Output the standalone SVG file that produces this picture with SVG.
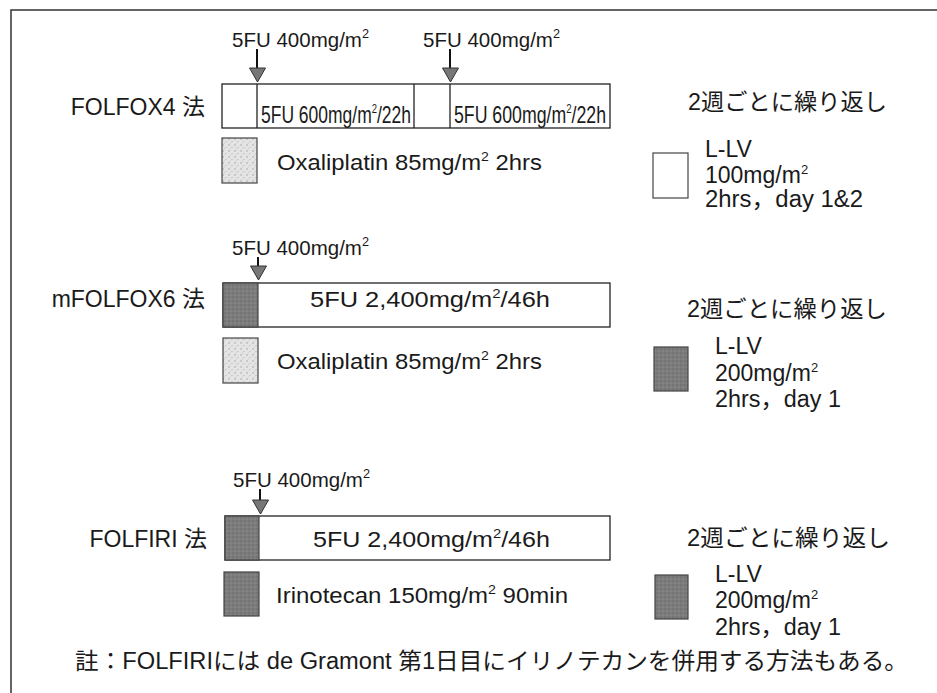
<svg xmlns="http://www.w3.org/2000/svg" width="937" height="693" viewBox="0 0 937 693">
<style>
  text { font-family: "Liberation Sans", Arial, "Noto Sans CJK JP", sans-serif; fill: #1a1a1a; }
  .jp { font-family: "Liberation Sans", "Noto Sans CJK JP", sans-serif; }
  .lbl { font-size: 23px; }
  .dose { font-size: 21px; }
  .cond { font-size: 24px; }
  .body { font-size: 22px; }
  .side { font-size: 23px; }
  .sup { font-size: 13px; }
  .box { fill: #ffffff; stroke: #222; stroke-width: 1.3; }
  .div { stroke: #222; stroke-width: 1.3; }
  .sw { stroke: #444; stroke-width: 1.2; }
  .stem { stroke: #111; stroke-width: 2; }
  .head { fill: #777; stroke: #333; stroke-width: 1; }
  .frame { stroke: #333; stroke-width: 1.5; fill: none; }
</style>
<defs>
  <pattern id="light" width="6" height="6" patternUnits="userSpaceOnUse">
    <rect width="6" height="6" fill="#e4e4e4"/>
    <circle cx="1" cy="1" r="0.7" fill="#9a9a9a"/>
    <circle cx="4" cy="3.5" r="0.6" fill="#aaaaaa"/>
    <circle cx="2.2" cy="5" r="0.5" fill="#bdbdbd"/>
  </pattern>
  <pattern id="dark" width="4" height="4" patternUnits="userSpaceOnUse">
    <rect width="4" height="4" fill="#7c7c7c"/>
    <circle cx="1" cy="1" r="0.6" fill="#555"/>
    <circle cx="3" cy="3" r="0.5" fill="#9c9c9c"/>
  </pattern>
</defs>
<rect width="937" height="693" fill="#ffffff"/>

<g id="frame">
  <path class="frame" d="M11 693 V10 H937"/>
</g>

<!-- FOLFOX4 -->
<g id="folfox4">
  <text class="lbl jp" x="205" y="115" text-anchor="end">FOLFOX4 法</text>
  <text class="dose" x="232" y="47" textLength="137" lengthAdjust="spacingAndGlyphs">5FU 400mg/m<tspan class="sup" baseline-shift="9">2</tspan></text>
  <text class="dose" x="423" y="47" textLength="137" lengthAdjust="spacingAndGlyphs">5FU 400mg/m<tspan class="sup" baseline-shift="9">2</tspan></text>
  <rect class="box" x="222" y="84" width="388" height="44"/>
  <line class="div" x1="257" y1="84" x2="257" y2="128"/>
  <line class="div" x1="414" y1="84" x2="414" y2="128"/>
  <line class="div" x1="450" y1="84" x2="450" y2="128"/>
  <text class="cond" x="261" y="123" textLength="150" lengthAdjust="spacingAndGlyphs">5FU 600mg/m<tspan font-size="13" baseline-shift="10">2</tspan>/22h</text>
  <text class="cond" x="454" y="123" textLength="152" lengthAdjust="spacingAndGlyphs">5FU 600mg/m<tspan font-size="13" baseline-shift="10">2</tspan>/22h</text>
  <rect class="sw" x="222" y="138" width="35" height="45" fill="url(#light)"/>
  <text class="body" x="277" y="170" textLength="265" lengthAdjust="spacingAndGlyphs">Oxaliplatin 85mg/m<tspan class="sup" baseline-shift="9">2</tspan> 2hrs</text>
  <text class="side jp" x="688" y="110" textLength="199" lengthAdjust="spacingAndGlyphs">2週ごとに繰り返し</text>
  <rect class="sw" x="653" y="153" width="35" height="45" fill="#ffffff" stroke="#222"/>
  <text class="side" x="705" y="157">L-LV</text>
  <text class="side" x="705" y="183">100mg/m<tspan class="sup" baseline-shift="9">2</tspan></text>
  <text class="side jp" x="705" y="207" textLength="158" lengthAdjust="spacingAndGlyphs">2hrs，day 1&amp;2</text>
</g>

<!-- mFOLFOX6 -->
<g id="mfolfox6">
  <text class="lbl jp" x="205" y="307" text-anchor="end">mFOLFOX6 法</text>
  <text class="dose" x="232" y="255" textLength="137" lengthAdjust="spacingAndGlyphs">5FU 400mg/m<tspan class="sup" baseline-shift="9">2</tspan></text>
  <rect class="box" x="223" y="283" width="387" height="44"/>
  <rect class="sw" x="223" y="283" width="35" height="44" fill="url(#dark)"/>
  <text class="body" x="310" y="307" textLength="240" lengthAdjust="spacingAndGlyphs">5FU 2,400mg/m<tspan class="sup" baseline-shift="9">2</tspan>/46h</text>
  <rect class="sw" x="223" y="338" width="35" height="45" fill="url(#light)"/>
  <text class="body" x="277" y="369" textLength="265" lengthAdjust="spacingAndGlyphs">Oxaliplatin 85mg/m<tspan class="sup" baseline-shift="9">2</tspan> 2hrs</text>
  <text class="side jp" x="687" y="317" textLength="200" lengthAdjust="spacingAndGlyphs">2週ごとに繰り返し</text>
  <rect class="sw" x="654" y="347" width="34" height="44" fill="url(#dark)"/>
  <text class="side" x="715" y="354">L-LV</text>
  <text class="side" x="715" y="381">200mg/m<tspan class="sup" baseline-shift="9">2</tspan></text>
  <text class="side jp" x="715" y="407" textLength="126" lengthAdjust="spacingAndGlyphs">2hrs，day 1</text>
</g>

<!-- FOLFIRI -->
<g id="folfiri">
  <text class="lbl jp" x="207" y="547" text-anchor="end">FOLFIRI 法</text>
  <text class="dose" x="233" y="487" textLength="137" lengthAdjust="spacingAndGlyphs">5FU 400mg/m<tspan class="sup" baseline-shift="9">2</tspan></text>
  <rect class="box" x="225" y="516" width="385" height="44"/>
  <rect class="sw" x="225" y="516" width="34" height="44" fill="url(#dark)"/>
  <text class="body" x="313" y="547" textLength="237" lengthAdjust="spacingAndGlyphs">5FU 2,400mg/m<tspan class="sup" baseline-shift="9">2</tspan>/46h</text>
  <rect class="sw" x="224" y="572" width="35" height="44" fill="url(#dark)"/>
  <text class="body" x="276" y="603" textLength="292" lengthAdjust="spacingAndGlyphs">Irinotecan 150mg/m<tspan class="sup" baseline-shift="9">2</tspan> 90min</text>
  <text class="side jp" x="687" y="546" textLength="203" lengthAdjust="spacingAndGlyphs">2週ごとに繰り返し</text>
  <rect class="sw" x="655" y="575" width="33" height="44" fill="url(#dark)"/>
  <text class="side" x="715" y="582">L-LV</text>
  <text class="side" x="715" y="608">200mg/m<tspan class="sup" baseline-shift="9">2</tspan></text>
  <text class="side jp" x="715" y="635" textLength="126" lengthAdjust="spacingAndGlyphs">2hrs，day 1</text>
</g>

<g id="note">
  <text class="lbl jp" x="75" y="669" textLength="833" lengthAdjust="spacingAndGlyphs">註：FOLFIRIには de Gramont 第1日目にイリノテカンを併用する方法もある。</text>
</g>

<g id="connectors">
  <line class="stem" x1="257" y1="49" x2="257" y2="69"/>
  <polygon class="head" points="249.5,68 265.5,68 257.5,82"/>
  <line class="stem" x1="450" y1="49" x2="450" y2="69"/>
  <polygon class="head" points="442.5,68 458.5,68 450.5,82"/>
  <line class="stem" x1="258" y1="257" x2="258" y2="267"/>
  <polygon class="head" points="250.5,266 266.5,266 258.5,280"/>
  <line class="stem" x1="260" y1="489" x2="260" y2="501"/>
  <polygon class="head" points="252.5,500 268.5,500 260.5,514"/>
</g>
</svg>
